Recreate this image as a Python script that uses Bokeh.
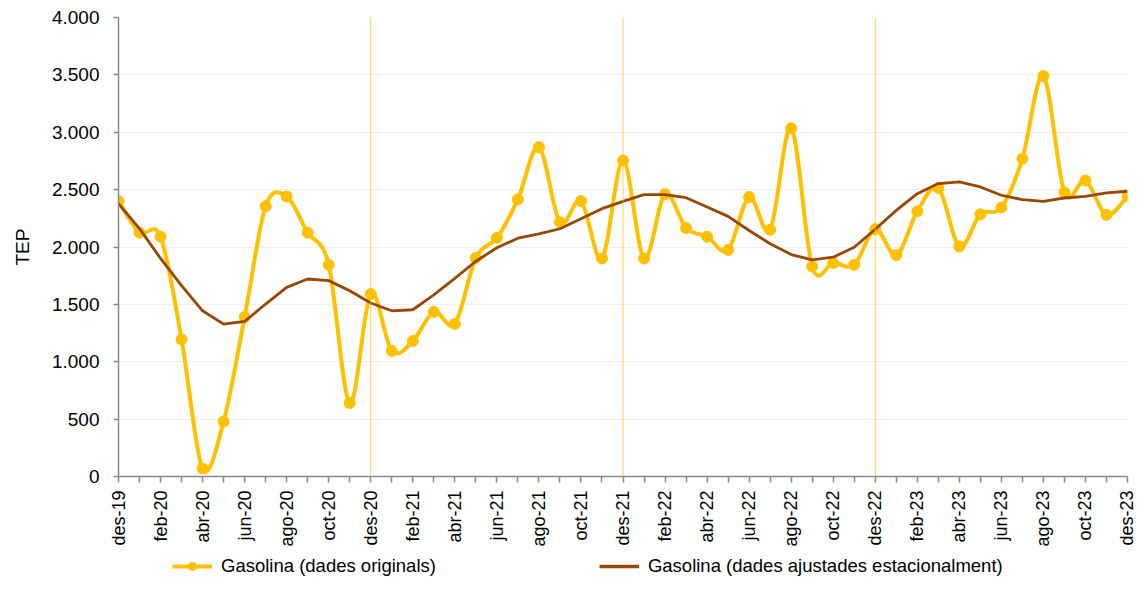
import numpy as np
from bokeh.plotting import figure
from bokeh.layouts import column
from bokeh.models import Range1d, FixedTicker, Legend, LegendItem, Span
from bokeh.embed import file_html
from bokeh.resources import INLINE

months = ["des-19",
          "gen-20", "feb-20", "mar-20", "abr-20", "mai-20", "jun-20", "jul-20", "ago-20", "set-20", "oct-20", "nov-20", "des-20",
          "gen-21", "feb-21", "mar-21", "abr-21", "mai-21", "jun-21", "jul-21", "ago-21", "set-21", "oct-21", "nov-21", "des-21",
          "gen-22", "feb-22", "mar-22", "abr-22", "mai-22", "jun-22", "jul-22", "ago-22", "set-22", "oct-22", "nov-22", "des-22",
          "gen-23", "feb-23", "mar-23", "abr-23", "mai-23", "jun-23", "jul-23", "ago-23", "set-23", "oct-23", "nov-23", "des-23"]

original = [2400,
            2125, 2090, 1195, 70, 480, 1390, 2355, 2440, 2125, 1845, 640, 1590,
            1095, 1180, 1435, 1330, 1905, 2080, 2415, 2870, 2215, 2400, 1900, 2755,
            1900, 2460, 2165, 2090, 1975, 2435, 2150, 3035, 1830, 1860, 1845, 2155,
            1930, 2310, 2515, 2005, 2285, 2345, 2770, 3490, 2475, 2580, 2280, 2445]

adjusted = [2378,
            2160, 1900, 1663, 1444, 1328, 1351, 1503, 1648, 1721, 1707, 1619, 1512,
            1444, 1453, 1582, 1727, 1876, 1993, 2077, 2115, 2159, 2247, 2334, 2398,
            2457, 2457, 2430, 2349, 2267, 2144, 2028, 1934, 1888, 1911, 1998, 2155,
            2319, 2465, 2553, 2567, 2523, 2451, 2413, 2398, 2427, 2442, 2471, 2486]

year_marks = ["des-20", "des-21", "des-22"]
y_ticks = [0, 500, 1000, 1500, 2000, 2500, 3000, 3500, 4000]

name_orig = "Gasolina (dades originals)"
name_adj = "Gasolina (dades ajustades estacionalment)"

YELLOW = "#FFC000"
BROWN = "#974706"
FONT = "Liberation Sans"

n = len(months)
xs = np.arange(n, dtype=float)
ys = np.array(original, dtype=float)

# smoothed (Catmull-Rom style) Bezier segments through the data points
x0 = xs[:-1]; y0 = ys[:-1]; x1 = xs[1:]; y1 = ys[1:]
prev_i = np.maximum(np.arange(n - 1) - 1, 0)
next_i = np.minimum(np.arange(n - 1) + 2, n - 1)
cx0 = x0 + (x1 - xs[prev_i]) / 6.0
cy0 = y0 + (y1 - ys[prev_i]) / 6.0
cx1 = x1 - (xs[next_i] - x0) / 6.0
cy1 = y1 - (ys[next_i] - y0) / 6.0

p = figure(width=1136, height=552, output_backend="svg", toolbar_location=None,
           x_range=Range1d(0, n - 1), y_range=Range1d(0, 4000),
           min_border_left=118, min_border_right=9, min_border_top=17, min_border_bottom=76)
p.outline_line_color = None
p.background_fill_color = "white"
p.border_fill_color = "white"

for m in year_marks:
    p.add_layout(Span(location=months.index(m), dimension="height",
                      line_color=YELLOW, line_alpha=0.7, line_width=1))

LINE_W_ORIG = 4
LINE_W_ADJ = 2.8
MARK_SIZE = 11

p.bezier(x0=x0, y0=y0, x1=x1, y1=y1, cx0=cx0, cy0=cy0, cx1=cx1, cy1=cy1,
         line_color=YELLOW, line_width=LINE_W_ORIG)
p.scatter(xs, ys, size=MARK_SIZE, marker="circle", fill_color=YELLOW, line_color=YELLOW)
p.line(xs, adjusted, line_color=BROWN, line_width=LINE_W_ADJ)

# axes
p.xgrid.grid_line_color = None
p.ygrid.grid_line_color = "#EFEFEF"
p.ygrid.grid_line_width = 1

p.xaxis.ticker = FixedTicker(ticks=list(range(n)))
p.xaxis.major_label_overrides = {i: (months[i] if i % 2 == 0 else "") for i in range(n)}
p.xaxis.major_label_orientation = np.pi / 2
p.xaxis.minor_tick_line_color = None
p.xaxis.major_tick_in = 0
p.xaxis.major_tick_out = 6
p.xaxis.major_label_standoff = 8

p.yaxis.ticker = FixedTicker(ticks=y_ticks)
p.yaxis.major_label_overrides = {v: f"{v:,}".replace(",", ".") for v in y_ticks}
p.yaxis.minor_tick_line_color = None
p.yaxis.major_tick_in = 0
p.yaxis.major_tick_out = 5
p.yaxis.major_label_standoff = 14
p.yaxis.axis_label = "TEP"
p.yaxis.axis_label_standoff = 16

for ax in (p.xaxis, p.yaxis):
    ax.axis_line_color = "#898989"
    ax.axis_line_width = 1.5
    ax.major_tick_line_color = "#898989"
    ax.major_tick_line_width = 1.5
    ax.major_label_text_font = FONT
    ax.major_label_text_font_size = "19px"
    ax.major_label_text_color = "#000000"
    ax.axis_label_text_font = FONT
    ax.axis_label_text_font_size = "19px"
    ax.axis_label_text_font_style = "normal"
    ax.axis_label_text_color = "#000000"
p.xaxis.major_label_text_font_size = "18px"

# legend strip below the chart (own small figure; proxy renderers hold no visible data)
lg = figure(width=1136, height=45, output_backend="svg", toolbar_location=None,
            x_axis_type=None, y_axis_type=None, x_range=Range1d(0, 1), y_range=Range1d(0, 1),
            min_border_left=118, min_border_right=9, min_border_top=0, min_border_bottom=0)
lg.outline_line_color = None
lg.grid.grid_line_color = None
lg.background_fill_color = "white"
lg.border_fill_color = "white"
k_line = lg.line(x=[np.nan], y=[np.nan], line_color=YELLOW, line_width=LINE_W_ORIG)
k_pts = lg.scatter(x=[np.nan], y=[np.nan], size=9, marker="circle", fill_color=YELLOW, line_color=YELLOW)
k_adj = lg.line(x=[np.nan], y=[np.nan], line_color=BROWN, line_width=LINE_W_ADJ + 0.7)

legend = Legend(items=[LegendItem(label=name_orig, renderers=[k_line, k_pts]),
                       LegendItem(label=name_adj, renderers=[k_adj])],
                orientation="horizontal", location=(54, 20),
                label_text_font=FONT, label_text_font_size="18.5px", label_text_color="#000000",
                glyph_width=40, glyph_height=20, label_standoff=9, spacing=163,
                padding=0, margin=0, border_line_alpha=0, background_fill_alpha=0)
lg.add_layout(legend, "center")

layout = column(p, lg, spacing=0)
open("out.html", "w").write(file_html(layout, INLINE))
